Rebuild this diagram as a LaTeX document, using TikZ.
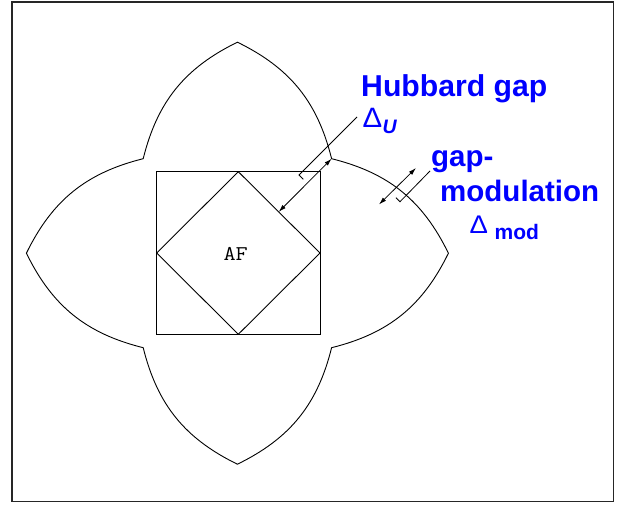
\documentclass[tikz,border=0pt]{standalone}
\usepackage{fontspec}
\newfontfamily\labfont{Liberation Sans}
\usetikzlibrary{arrows.meta,calc}
\definecolor{labblue}{RGB}{0,0,255}
\begin{document}
\begin{tikzpicture}[x=1pt,y=1pt,
  frameline/.style={line width=1.1pt,black!85},
  lobe/.style={line width=0.9pt,black},
  boxline/.style={line width=0.9pt,black},
  gaparrow/.style={line width=0.8pt,{Latex[length=7.5pt,width=4.5pt]}-{Latex[length=7.5pt,width=4.5pt]}},
  leader/.style={line width=0.8pt,black},
  lab/.style={inner sep=0pt,anchor=base west,text=labblue,font=\labfont\bfseries\fontsize{29.5}{30}\selectfont},
  bigdelta/.style={inner sep=0pt,anchor=base west,text=labblue,font=\labfont\fontsize{28}{28}\selectfont},
  subU/.style={inner sep=0pt,anchor=base west,text=labblue,font=\labfont\bfseries\itshape\fontsize{19.5}{20}\selectfont},
  submod/.style={inner sep=0pt,anchor=base west,text=labblue,font=\labfont\bfseries\fontsize{21}{22}\selectfont},
  aflabel/.style={inner sep=0pt,font=\ttfamily\fontsize{21}{21}\selectfont}
]
\useasboundingbox (0,0) rectangle (621,506);
% frame
\coordinate (fLL) at (12,4.3);
\coordinate (fUR) at (613.3,504);
\draw[frameline] (fLL) rectangle (fUR);

% four-lobe surface
\coordinate (tipT) at (237.4,463.8);
\coordinate (tipB) at (237.4,41.8);
\coordinate (tipL) at (26.4,252.8);
\coordinate (tipR) at (448.4,252.8);
\coordinate (cUR) at (331.6,347.3);
\coordinate (cUL) at (143.2,347.3);
\coordinate (cLL) at (143.2,158.3);
\coordinate (cLR) at (331.6,158.3);
\draw[lobe] (tipR) to[bend right=25] (cUR) to[bend right=25] (tipT)
  to[bend right=25] (cUL) to[bend right=25] (tipL)
  to[bend right=25] (cLL) to[bend right=25] (tipB)
  to[bend right=25] (cLR) to[bend right=25] (tipR);

% square and diamond
\coordinate (sLL) at (156.7,171.7);
\coordinate (sUR) at (320,334.3);
\draw[boxline] (sLL) rectangle (sUR);
\coordinate (dT) at (238.3,334.3);
\coordinate (dR) at (320,253);
\coordinate (dB) at (238.3,171.7);
\coordinate (dL) at (156.7,253);
\draw[boxline] (dT) -- (dR) -- (dB) -- (dL) -- cycle;
\node[aflabel] (af) at (235.7,251.8) {\scalebox{1.12}[1]{AF}};

% Hubbard gap arrow and leader
\coordinate (hfoot) at ($(dT)!(cUR)!(dR)$);
\draw[gaparrow] (hfoot) -- (cUR);
\coordinate (hl1) at (357,389);
\coordinate (hl2) at (299,331);
\coordinate (hl3) at (303.3,326.7);
\draw[leader] (hl1) -- (hl2) -- (hl3);

% gap modulation arrow and leader
\coordinate (m1) at (379,301.5);
\coordinate (m2) at (416,338);
\draw[gaparrow] (m1) -- (m2);
\coordinate (ml1) at (430,335);
\coordinate (ml2) at (400,304.3);
\coordinate (ml3) at (396,308.3);
\draw[leader] (ml1) -- (ml2) -- (ml3);

% labels
\node[lab,font=\labfont\bfseries\fontsize{30.2}{31}\selectfont] (hub) at (361,409.3) {Hubbard gap};
\node[bigdelta] (dU) at (362.5,378.7) {\scalebox{1.05}[1]{Δ}};
\node[subU] (U) at (382.5,372.7) {U};
\node[lab] (gapl) at (431,339.3) {gap-};
\node[lab] (modl) at (440,304.3) {modulation};
\node[bigdelta,font=\labfont\fontsize{25.5}{26}\selectfont] (dmod) at (469.5,272.7) {\scalebox{1.08}[1]{Δ}};
\node[submod] (mod) at (494.5,266) {mod};
\end{tikzpicture}
\end{document}
